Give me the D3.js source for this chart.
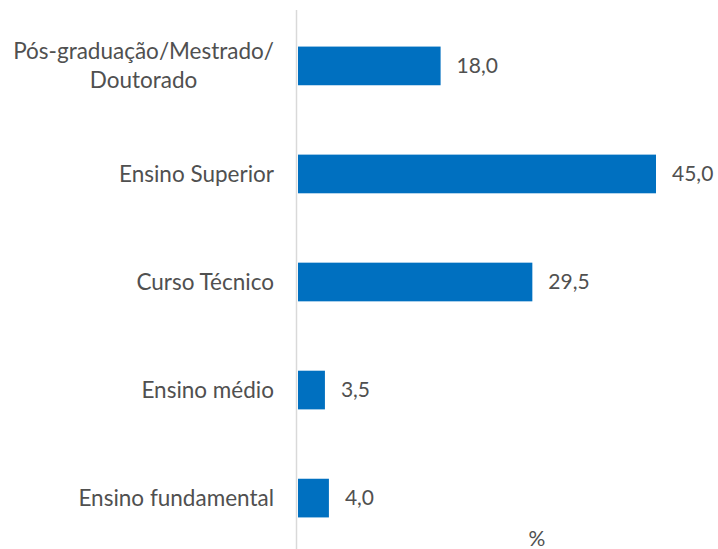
<!DOCTYPE html>
<html>
<head>
<meta charset="utf-8">
<script src="https://cdn.jsdelivr.net/npm/d3@7"></script>
<style>
  html, body { margin: 0; padding: 0; background: #fff; }
  svg { display: block; font-family: Lato, "Open Sans", sans-serif; }
</style>
</head>
<body>
<div id="chart"></div>
<script>
var categories = [
  ['Pós-graduação/Mestrado/', 'Doutorado'],
  ['Ensino Superior'],
  ['Curso Técnico'],
  ['Ensino médio'],
  ['Ensino fundamental']
];
var values = [18.0, 45.0, 29.5, 3.5, 4.0];
var axisLabel = '%';

var width = 718, height = 549;
var textColor = '#505050';
var barColor = '#0070c0';

var svg = d3.select('#chart').append('svg')
  .attr('width', width)
  .attr('height', height);

var keys = categories.map(function(c) { return c.join(' '); });

var x = d3.scaleLinear().domain([0, 45]).range([297, 656]);
var y = d3.scaleBand().domain(keys).range([12, 552])
  .paddingInner(0.642).paddingOuter(0.32);

// vertical axis line
svg.append('line')
  .attr('x1', 296.5).attr('x2', 296.5)
  .attr('y1', 10).attr('y2', height)
  .attr('stroke', '#d9d9d9')
  .attr('stroke-width', 1.5);

var data = keys.map(function(k, i) {
  return { key: k, lines: categories[i], value: values[i] };
});

svg.selectAll('rect.bar').data(data).enter().append('rect')
  .attr('class', 'bar')
  .attr('x', x(0) + 1)
  .attr('y', function(d) { return y(d.key); })
  .attr('width', function(d) { return x(d.value) - x(0) - 1; })
  .attr('height', y.bandwidth())
  .attr('fill', barColor);

// value labels
svg.selectAll('text.val').data(data).enter().append('text')
  .attr('class', 'val')
  .attr('x', function(d) { return x(d.value) + 16; })
  .attr('y', function(d) { return y(d.key) + y.bandwidth() / 2; })
  .attr('dy', '0.35em')
  .attr('fill', textColor)
  .style('font-size', '21px')
  .text(function(d) { return d.value.toFixed(1).replace('.', ','); });

// category labels, wrapped lines centred on the widest line
var lineH = 29, labelRight = 274;
var cat = svg.selectAll('text.cat').data(data).enter().append('text')
  .attr('class', 'cat')
  .attr('fill', textColor)
  .style('font-size', '22.5px');
cat.each(function(d) {
  var t = d3.select(this);
  var cy = y(d.key) + y.bandwidth() / 2 - (d.lines.length - 1) * lineH / 2;
  var spans = d.lines.map(function(l, j) {
    return t.append('tspan')
      .attr('y', cy + j * lineH)
      .attr('dy', '0.35em')
      .text(l);
  });
  if (d.lines.length === 1) {
    t.attr('text-anchor', 'end');
    spans[0].attr('x', labelRight);
  } else {
    var w = d3.max(spans, function(s) { return s.node().getComputedTextLength(); });
    t.attr('text-anchor', 'middle');
    spans.forEach(function(s) { s.attr('x', labelRight - w / 2); });
  }
});

svg.append('text')
  .attr('x', 537)
  .attr('y', 546)
  .attr('text-anchor', 'middle')
  .attr('fill', textColor)
  .style('font-size', '21px')
  .text(axisLabel);
</script>
</body>
</html>
